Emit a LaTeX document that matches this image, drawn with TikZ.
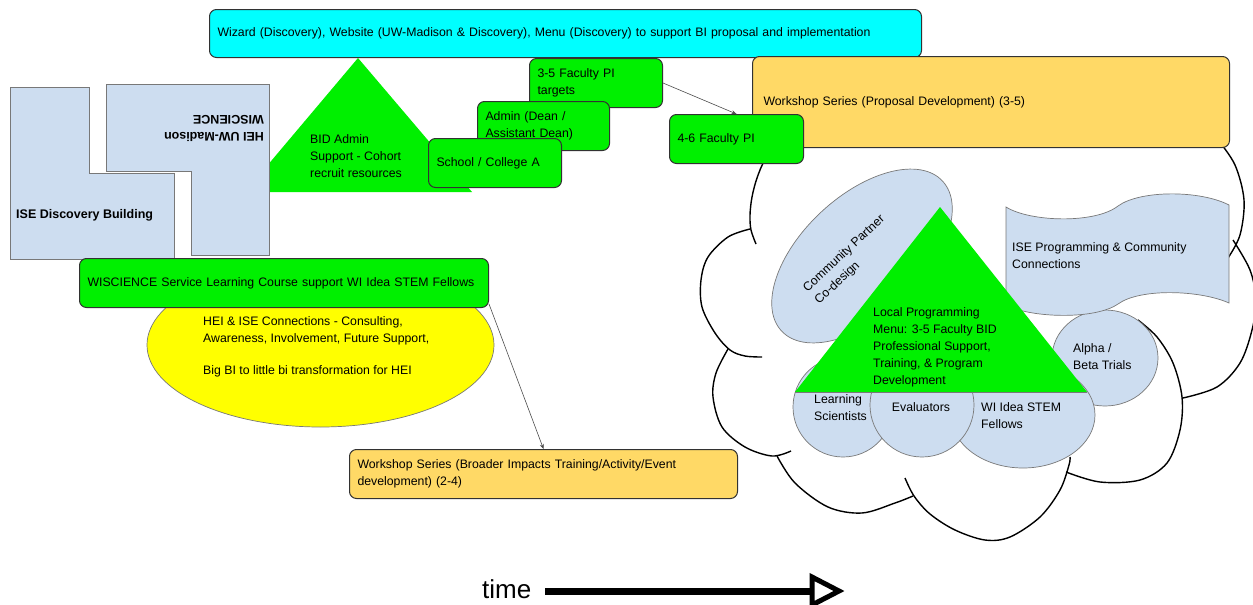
\documentclass[tikz,border=0pt]{standalone}
\usepackage{fontspec}
\setmainfont{Liberation Sans}
\usetikzlibrary{arrows.meta,shapes.geometric}
\definecolor{bidgreen}{RGB}{0,240,0}
\definecolor{menucyan}{RGB}{0,255,255}
\definecolor{paleblue}{RGB}{205,221,240}
\definecolor{wsgold}{RGB}{255,217,102}
\definecolor{hiyellow}{RGB}{255,255,0}
\definecolor{edgegray}{RGB}{120,120,120}
\definecolor{boxedge}{RGB}{50,50,50}

\begin{document}
\begin{tikzpicture}[x=1pt,y=-1pt,
  every node/.style={inner sep=0pt,font=\fontsize{12.3}{17}\selectfont},
  boldtext/.style={font=\fontsize{12.5}{17}\selectfont\bfseries},
  rbox/.style={draw=boxedge,line width=1pt,rounded corners=7pt,inner xsep=8pt,inner ysep=2pt,align=left,anchor=north west,
    execute at begin node={\hyphenpenalty=10000\exhyphenpenalty=10000}},
  gbox/.style={rbox,fill=bidgreen},
  wsbox/.style={rbox,fill=wsgold},
  blob/.style={draw=edgegray,line width=0.7pt,fill=paleblue},
  cloudline/.style={draw=black,line width=1.4pt},
  link/.style={draw=black!70,line width=0.6pt,-{Stealth[length=5pt,width=4pt]}},
  lbl/.style={align=left,anchor=west}
]
\useasboundingbox (0,0) rectangle (1253,605);
\clip (0,0) rectangle (1253,605);

% cohort recruitment triangle
\fill[bidgreen] (358,58) -- (245,192) -- (472,192) -- cycle;
\node[lbl] (bidtxt) at (310,156.5) {BID Admin\\Support - Cohort\\recruit resources};

% the two buildings
\draw[blob] (10,87) -- (89,87) -- (89,173) -- (174,173) -- (174,259) -- (10,259) -- cycle;
\node[boldtext,anchor=west] (isebldg) at (16,215) {ISE Discovery Building};
\draw[blob] (106,84) -- (269,84) -- (269,255) -- (191,255) -- (191,171) -- (106,171) -- cycle;
\node[boldtext,rotate=180,align=left] (heibldg) at (214,128) {HEI UW-Madison\\WISCIENCE};

% HEI connections
\node[ellipse,draw=edgegray,line width=0.7pt,fill=hiyellow,minimum width=347pt,minimum height=164pt] (heiconn) at (320.5,345) {};
\node[lbl] (heitext) at (203,346.5) {HEI \& ISE Connections - Consulting,\\Awareness, Involvement, Future Support,\\[15pt]Big BI to little bi transformation for HEI};
\node[gbox,text width=393pt,minimum height=49pt] (wisc) at (79,258) {\mbox{WISCIENCE Service Learning Course support WI Idea STEM Fellows}};

% menu bar
\node[rbox,fill=menucyan,text width=696pt,minimum height=48pt] (menu) at (209,9) {Wizard (Discovery), Website (UW-Madison \& Discovery), Menu (Discovery) to support BI proposal and implementation};

% school ladder
\node[gbox,text width=117pt,minimum height=49pt] (b35) at (529,58) {3-5 Faculty PI\\targets};
\node[gbox,text width=116pt,minimum height=49pt] (admin) at (477,101) {Admin (Dean /\\Assistant Dean)};
\node[gbox,text width=117pt,minimum height=49pt] (school) at (428,138) {School / College A};

% cloud outline
\draw[cloudline] plot[smooth,tension=0.55] coordinates {(778,148) (765,160) (757,178) (752,197) (750,215) (751,230) (756,244)};
\draw[cloudline] plot[smooth,tension=0.55] coordinates {(750,229) (728,237) (708,257) (701,280) (702,307) (715,333) (730,350) (745,356) (762,357)};
\draw[cloudline] plot[smooth,tension=0.55] coordinates {(728,349) (716,373) (713,397) (722,427) (745,447) (772,456) (791,451)};
\draw[cloudline] plot[smooth,tension=0.55] coordinates {(777,456) (795,483) (828,507) (862,513) (895,503) (913,496)};
\draw[cloudline] plot[smooth,tension=0.55] coordinates {(905,478) (914,496) (930,514) (955,530) (985,540) (1010,537) (1040,517) (1060,490) (1069,465) (1070,457)};
\draw[cloudline] plot[smooth,tension=0.55] coordinates {(1066,472) (1100,482) (1140,480) (1167,463) (1180,430) (1182,397) (1173,363) (1157,337) (1138,320)};
\draw[cloudline] plot[smooth,tension=0.55] coordinates {(1183,398) (1217,387) (1240,363) (1252,330) (1256,300) (1250,270) (1233,240)};
\draw[cloudline] plot[smooth,tension=0.55] coordinates {(1218,140) (1235,165) (1244,200) (1240,235) (1228,258)};

% programming partners inside the cloud
\node[ellipse,blob,minimum width=106pt,minimum height=96pt] (alpha) at (1105,358) {};
\draw[blob] (1006,207) .. controls (1030,222) and (1095,224) .. (1118,206)
  .. controls (1140,190) and (1200,190) .. (1229,205) -- (1229,303)
  .. controls (1200,290) and (1140,288) .. (1118,304)
  .. controls (1095,320) and (1030,318) .. (1006,305) -- cycle;
\node[ellipse,blob,minimum width=220pt,minimum height=120pt,rotate=43] (partner) at (862,256) {};
\node[ellipse,blob,minimum width=100pt,minimum height=100pt] (learn) at (843,407) {};
\node[ellipse,blob,minimum width=144pt,minimum height=106pt] (fellows) at (1023,415) {};
\node[ellipse,blob,minimum width=104pt,minimum height=104pt] (evals) at (922,405) {};

% local programming triangle
\fill[bidgreen] (940,207) -- (795,392) -- (1087,392) -- cycle;
\draw[edgegray,line width=0.5pt] (795,392) -- (1087,392);

\node[lbl] (localtxt) at (873,347) {Local Programming\\Menu: 3-5 Faculty BID\\Professional Support,\\Training, \& Program\\Development};
\node[align=left,rotate=43] (partnertxt) at (850,260) {Community Partner\\Co-design};
\node[lbl] (iseprog) at (1012,255.5) {ISE Programming \& Community\\Connections};
\node[lbl] (alphatxt) at (1073,356.5) {Alpha /\\Beta Trials};
\node[lbl] (learntxt) at (814,407.5) {Learning\\Scientists};
\node (evaltxt) at (921,407) {Evaluators};
\node[lbl] (fellowtxt) at (981,416) {WI Idea STEM\\Fellows};

% proposal workshops
\node[wsbox,inner xsep=11pt,text width=455pt,minimum height=91pt] (ws1) at (752,56) {Workshop Series (Proposal Development) (3-5)};
\node[gbox,text width=118pt,minimum height=49pt] (b46) at (669,114) {4-6 Faculty PI};

% broader impacts workshops
\node[wsbox,text width=372pt,minimum height=49pt] (ws2) at (349,449) {Workshop Series (Broader Impacts Training/Activity/Event\\development) (2-4)};

\draw[link] (b35.east) -- (b46.north);
\draw[link] ([yshift=4pt]wisc.south east) -- (ws2.north);

% time axis
\node[anchor=base west,font=\fontsize{26}{30}\selectfont] (timelbl) at (482,598) {time};
\coordinate (tailstart) at (545,591);
\coordinate (headback) at (812,591);
\draw[line width=7pt] (tailstart) -- (headback);
\draw[line width=5pt,fill=white,line join=miter] (812,577) -- (839,591) -- (812,605) -- cycle;
\end{tikzpicture}
\end{document}
